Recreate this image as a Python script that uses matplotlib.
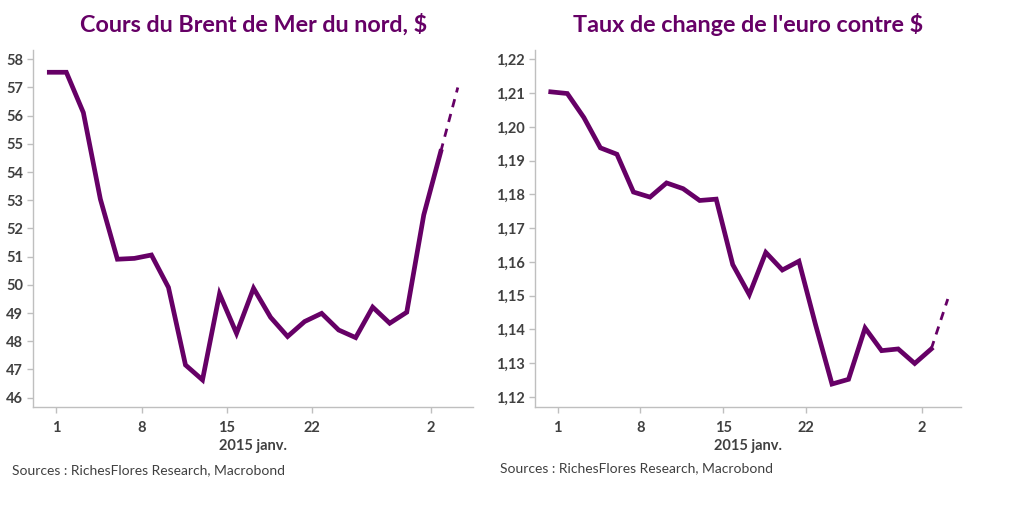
import matplotlib
matplotlib.use("Agg")
import matplotlib.pyplot as plt
from matplotlib.ticker import FuncFormatter

plt.rcParams["font.family"] = ["Lato", "DejaVu Sans"]

PURPLE = "#660066"
TEXT = "#404040"
SPINE = "#bfbfbf"

# business-day index: Jan 1 .. Feb 3 (solid), Feb 4 (dashed)
tick_idx = [0, 5, 10, 15, 22]
tick_labels = ["1", "8", "15", "22", "2"]
tick_offset = 0.42

brent = [57.54, 57.54, 56.11, 53.04, 50.91, 50.94, 51.06, 49.91, 47.16, 46.63,
         49.68, 48.28, 49.88, 48.85, 48.17, 48.70, 48.99, 48.40, 48.13, 49.21,
         48.64, 49.03, 52.48, 54.73]
brent_last = 57.0

eurusd = [1.2104, 1.2099, 1.2028, 1.1938, 1.1919, 1.1807, 1.1792, 1.1834, 1.1817,
          1.1782, 1.1786, 1.1592, 1.1503, 1.1628, 1.1576, 1.1602, 1.1415, 1.1238,
          1.1252, 1.1404, 1.1337, 1.1342, 1.1299, 1.1342]
eurusd_last = 1.1490

fig = plt.figure(figsize=(10.24, 5.17), dpi=100)
ax1 = fig.add_axes([0.0327, 0.2128, 0.429, 0.6905])
ax2 = fig.add_axes([0.5225, 0.2128, 0.416, 0.6905])


def draw(ax, values, last, title, yticks, ylim, xlim, fmt):
    x = list(range(len(values)))
    ax.plot(x, values, color=PURPLE, lw=3.4, solid_joinstyle="miter")
    ax.plot([x[-1], x[-1] + 1], [values[-1], last], color=PURPLE, lw=2,
            ls=(0, (3, 2.5)))
    ax.set_xlim(*xlim)
    ax.set_ylim(*ylim)
    ax.set_yticks(yticks)
    ax.yaxis.set_major_formatter(FuncFormatter(fmt))
    ax.set_xticks([i + tick_offset for i in tick_idx])
    ax.set_xticklabels(tick_labels)
    for s in ["top", "right"]:
        ax.spines[s].set_visible(False)
    for s in ["left", "bottom"]:
        ax.spines[s].set_color(SPINE)
        ax.spines[s].set_linewidth(1)
    ax.tick_params(axis="both", colors=SPINE, length=4, width=1,
                   labelcolor=TEXT, labelsize=10.5)
    ax.tick_params(axis="x", pad=6)
    for lab in ax.get_xticklabels() + ax.get_yticklabels():
        lab.set_fontweight("bold")
    ax.set_title(title, color=PURPLE, fontsize=16.8, fontweight="bold", pad=13)
    ax.set_xlabel("2015 janv.", color=TEXT, fontsize=10.5, fontweight="bold",
                  labelpad=3)


draw(ax1, brent, brent_last, "Cours du Brent de Mer du nord, $",
     list(range(46, 59)), (45.67, 58.33), (-0.93, 24.88),
     lambda v, p: f"{v:.0f}")
draw(ax2, eurusd, eurusd_last, "Taux de change de l'euro contre $",
     [1.12 + 0.01 * i for i in range(11)], (1.117, 1.2228), (-0.95, 24.8),
     lambda v, p: f"{v:.2f}".replace(".", ","))

fig.text(12 / 1024, 1 - 470 / 517, "Sources : RichesFlores Research, Macrobond",
         color=TEXT, fontsize=10, va="center")
fig.text(500 / 1024, 1 - 468 / 517, "Sources : RichesFlores Research, Macrobond",
         color=TEXT, fontsize=10, va="center")

fig.savefig("out.png", dpi=100, facecolor="white")
